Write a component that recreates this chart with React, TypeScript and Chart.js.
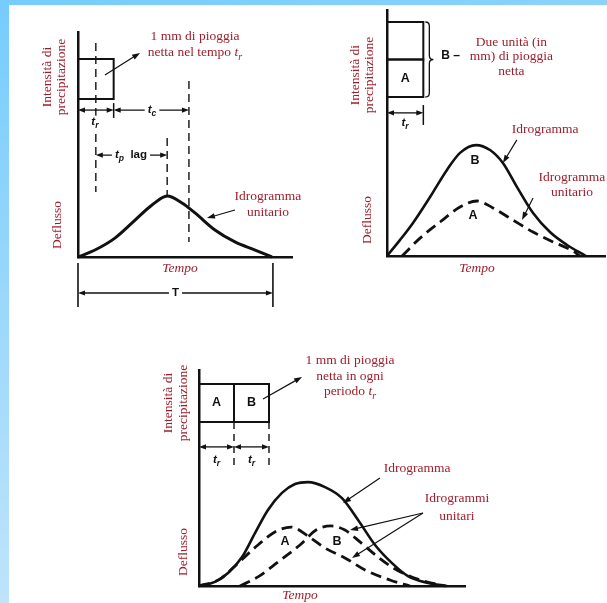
import React, { useEffect, useRef } from 'react';
import { Chart, registerables } from 'chart.js';

Chart.register(...registerables);

// ---------------- DATA ----------------
// Panel 1 – unit hydrograph (time in units where tr = 2)
const p1Time = [0, 0.95, 2.07, 3.2, 4.15, 5.0, 5.83, 6.56, 7.68, 8.8, 9.93, 10.88];
const p1Flow = [0, 0.31, 0.84, 1.64, 2.31, 2.71, 2.4, 1.96, 1.2, 0.67, 0.31, 0];
const p1RainStart = [0];
const p1RainEnd = [2];
const p1RainDepth = [1];
const p1RainLabels = [''];

// Panel 2 – two units of net rain in one tr
const p2RainStart = [0, 0];
const p2RainEnd = [2, 2];
const p2RainDepth = [1, 1];
const p2RainLabels = ['A', ''];
const p2TimeB = [0, 0.72, 1.43, 2.37, 3.3, 4.02, 4.9, 5.67, 6.38, 7.15, 8.04, 8.97, 9.91, 10.95];
const p2FlowB = [0, 0.72, 1.48, 2.64, 3.85, 4.61, 4.96, 4.74, 4.16, 3.09, 1.92, 1.07, 0.49, 0];
const p2TimeA = [0.83, 1.82, 2.92, 4.02, 4.95, 5.83, 6.93, 8.04, 9.14, 10.24, 10.62];
const p2FlowA = [0, 0.8, 1.52, 2.19, 2.46, 2.15, 1.61, 1.07, 0.63, 0.22, 0];

// Panel 3 – 1 mm in each of two consecutive tr periods
const p3RainStart = [0, 2];
const p3RainEnd = [2, 4];
const p3RainDepth = [1, 1];
const p3RainLabels = ['A', 'B'];
const p3TimeSum = [0, 0.91, 1.66, 2.46, 3.2, 3.94, 4.74, 5.49, 6.23, 7.2, 8.17, 9.09, 10.06, 11.03, 11.94, 13.09, 14.17];
const p3FlowSum = [0, 0.19, 0.6, 1.34, 2.45, 3.52, 4.31, 4.72, 4.81, 4.58, 4.07, 3.06, 1.9, 1.06, 0.46, 0.14, 0];
const p3TimeA = [0, 1.2, 2.23, 3.37, 4.34, 5.26, 6.23, 7.2, 8.34, 9.49, 10.91, 12.06];
const p3FlowA = [0, 0.32, 1.06, 1.9, 2.5, 2.73, 2.31, 1.76, 1.3, 0.74, 0.28, 0];
const p3TimeB = [2.34, 3.37, 4.51, 5.77, 6.69, 7.54, 8.34, 9.2, 10.23, 11.2, 12.63, 14.06];
const p3FlowB = [0, 0.42, 1.11, 1.9, 2.59, 2.78, 2.59, 2.04, 1.34, 0.79, 0.28, 0];

// ---------------- STYLE ----------------
const SERIF = "'Liberation Serif','Times New Roman',serif";
const SANS = "'Liberation Sans',Arial,sans-serif";
const RED = '#9d1f2d';
const INK = '#111';

type Seg = { s: string; it?: boolean; sub?: boolean };
const TR: Seg[] = [{ s: 't', it: true }, { s: 'r', it: true, sub: true }];

const segsOf = (s: string | Seg[]): Seg[] => (typeof s === 'string' ? [{ s }] : s);
const red = (x: number, y: number, s: string | Seg[], o: any = {}) => ({ k: 'txt', x, y, segs: segsOf(s), family: SERIF, size: 13.5, weight: 'normal', color: RED, ...o });
const sans = (x: number, y: number, s: string | Seg[], o: any = {}) => ({ k: 'txt', x, y, segs: segsOf(s), family: SANS, size: 11.5, weight: 'bold', color: INK, ...o });

function fontOf(g: Seg, size: number, weight: string, family: string, italicAll?: boolean) {
  return `${g.it || italicAll ? 'italic ' : ''}${weight} ${g.sub ? size * 0.75 : size}px ${family}`;
}
function measure(ctx: CanvasRenderingContext2D, segs: Seg[], size: number, weight: string, family: string, italicAll?: boolean) {
  let total = 0;
  const ws = segs.map((g) => {
    ctx.font = fontOf(g, size, weight, family, italicAll);
    const w = ctx.measureText(g.s).width;
    total += w;
    return w;
  });
  return { total, ws };
}
function drawTxt(ctx: CanvasRenderingContext2D, x: number, y: number, a: any) {
  const { total, ws } = measure(ctx, a.segs, a.size, a.weight, a.family, a.italic);
  ctx.save();
  ctx.translate(x, y);
  if (a.rot) ctx.rotate(-Math.PI / 2);
  if (a.bg) {
    ctx.fillStyle = '#fff';
    ctx.fillRect(-total / 2 - 2, -a.size * 0.55, total + 4, a.size * 1.2);
  }
  ctx.fillStyle = a.color;
  ctx.textBaseline = 'middle';
  ctx.textAlign = 'left';
  let cx = -total / 2;
  a.segs.forEach((g: Seg, i: number) => {
    ctx.font = fontOf(g, a.size, a.weight, a.family, a.italic);
    ctx.fillText(g.s, cx, g.sub ? a.size * 0.32 : 0);
    cx += ws[i];
  });
  ctx.restore();
}
function head(ctx: CanvasRenderingContext2D, x: number, y: number, ang: number, len = 7, half = 2.6) {
  const c = Math.cos(ang), s = Math.sin(ang);
  ctx.beginPath();
  ctx.moveTo(x, y);
  ctx.lineTo(x - len * c + half * s, y - len * s - half * c);
  ctx.lineTo(x - len * c - half * s, y - len * s + half * c);
  ctx.closePath();
  ctx.fill();
}

function makeDiagramPlugin(items: any[], rain: { start: number[]; end: number[]; depth: number[]; labels: string[] }) {
  return {
    id: 'diagram',
    afterDatasetsDraw(chart: any) {
      const ctx: CanvasRenderingContext2D = chart.ctx;
      const sx = chart.scales.x, sy = chart.scales.y, sr = chart.scales.yR;
      const X = (v: number) => sx.getPixelForValue(v);
      const Y = (v: number, ax?: string) => (ax === 'r' ? sr : sy).getPixelForValue(v);
      ctx.save();
      ctx.strokeStyle = INK;
      ctx.fillStyle = INK;
      // labels inside rain blocks
      const bases = rainBases(rain.start, rain.end, rain.depth);
      rain.labels.forEach((l, i) => {
        if (!l) return;
        drawTxt(ctx, X((rain.start[i] + rain.end[i]) / 2), Y(bases[i] + rain.depth[i] / 2, 'r'), sans(0, 0, l, { size: 12.5 }));
      });
      for (const a of items) {
        ctx.strokeStyle = INK;
        ctx.fillStyle = INK;
        if (a.k === 'vdash' || a.k === 'vline') {
          ctx.save();
          ctx.lineWidth = a.w || 1.4;
          if (a.k === 'vdash') ctx.setLineDash(a.dash || [8, 5]);
          ctx.beginPath();
          ctx.moveTo(X(a.x), Y(a.y1, a.ax));
          ctx.lineTo(X(a.x), Y(a.y2, a.ax));
          ctx.stroke();
          ctx.restore();
        } else if (a.k === 'dim') {
          const x1 = X(a.x1), x2 = X(a.x2), y = Y(a.y);
          ctx.lineWidth = 1.3;
          ctx.beginPath();
          ctx.moveTo(x1 + 3, y);
          ctx.lineTo(x2 - 3, y);
          ctx.stroke();
          head(ctx, x1, y, Math.PI);
          head(ctx, x2, y, 0);
          if (a.label) {
            const lx = a.lx !== undefined ? X(a.lx) : (x1 + x2) / 2;
            const t = sans(0, 0, a.label);
            const { total } = measure(ctx, t.segs, t.size, t.weight, t.family);
            ctx.fillStyle = '#fff';
            ctx.fillRect(lx - total / 2 - 3, y - 4, total + 6, 8);
            drawTxt(ctx, lx, y, t);
          }
        } else if (a.k === 'arrow') {
          const x1 = X(a.x1), y1 = Y(a.y1), x2 = X(a.x2), y2 = Y(a.y2);
          const ang = Math.atan2(y2 - y1, x2 - x1);
          ctx.lineWidth = 1.2;
          ctx.beginPath();
          ctx.moveTo(x1, y1);
          ctx.lineTo(x2 - 4 * Math.cos(ang), y2 - 4 * Math.sin(ang));
          ctx.stroke();
          head(ctx, x2, y2, ang, 8, 2.8);
        } else if (a.k === 'brace') {
          const x0 = X(a.x) + 2, yt = Y(a.y1, 'r'), yb = Y(a.y2, 'r'), ym = (yt + yb) / 2, w = 4;
          ctx.lineWidth = 1.3;
          ctx.beginPath();
          ctx.moveTo(x0, yt);
          ctx.quadraticCurveTo(x0 + w, yt, x0 + w, yt + w);
          ctx.lineTo(x0 + w, ym - w);
          ctx.quadraticCurveTo(x0 + w, ym, x0 + 2 * w, ym);
          ctx.quadraticCurveTo(x0 + w, ym, x0 + w, ym + w);
          ctx.lineTo(x0 + w, yb - w);
          ctx.quadraticCurveTo(x0 + w, yb, x0, yb);
          ctx.stroke();
        } else if (a.k === 'txt') {
          drawTxt(ctx, X(a.x), Y(a.y), a);
        }
      }
      ctx.restore();
    },
  };
}

function rainBases(start: number[], end: number[], depth: number[]) {
  return start.map((s, i) => {
    let b = 0;
    for (let j = 0; j < i; j++) if (start[j] < end[i] && end[j] > s) b += depth[j];
    return b;
  });
}
function rainDatasets(start: number[], end: number[], depth: number[]) {
  const bases = rainBases(start, end, depth);
  return start.map((s, i) => {
    const b = bases[i], t = b + depth[i], e = end[i];
    return {
      data: [{ x: s, y: b }, { x: s, y: t }, { x: e, y: t }, { x: e, y: b }, { x: s, y: b }],
      yAxisID: 'yR',
      borderColor: INK,
      borderWidth: 2,
      tension: 0,
      pointRadius: 0,
      fill: false,
      clip: false as any,
    };
  });
}
const xy = (t: number[], q: number[]) => t.map((v, i) => ({ x: v, y: q[i] }));
function curve(t: number[], q: number[], width: number, dash?: number[]) {
  return {
    data: xy(t, q),
    yAxisID: 'y',
    borderColor: INK,
    borderWidth: width,
    borderDash: dash || [],
    cubicInterpolationMode: 'monotone' as const,
    pointRadius: 0,
    fill: false,
    clip: false as any,
  };
}

const axisStyle = {
  type: 'linear' as const,
  grid: { display: false, drawTicks: false },
  ticks: { display: false },
  border: { display: true, color: INK, width: 2.5 },
};

function makeChart(canvas: HTMLCanvasElement, cfg: any) {
  return new Chart(canvas, {
    type: 'line',
    data: { datasets: cfg.datasets },
    options: {
      responsive: false,
      animation: false,
      events: [],
      layout: { padding: cfg.padding },
      plugins: { legend: { display: false }, tooltip: { enabled: false } },
      scales: {
        x: { ...axisStyle, position: 'bottom', min: cfg.x[0], max: cfg.x[1] },
        y: { ...axisStyle, position: 'left', min: cfg.y[0], max: cfg.y[1] },
        yR: { type: 'linear', display: false, min: cfg.yR[0], max: cfg.yR[1] },
      },
    } as any,
    plugins: [makeDiagramPlugin(cfg.items, cfg.rain)],
  });
}

const rotLabels = (xi: number, xp: number, yi: number, xd: number, yd: number) => [
  red(xi, yi, 'Intensità di', { rot: true }),
  red(xp, yi, 'precipitazione', { rot: true }),
  red(xd, yd, 'Deflusso', { rot: true }),
];

const panel1 = () => ({
  padding: { left: 78, top: 32, right: 315, bottom: 346 },
  x: [0, 12], y: [0, 10], yR: [-3.95, 1.675],
  rain: { start: p1RainStart, end: p1RainEnd, depth: p1RainDepth, labels: p1RainLabels },
  datasets: [...rainDatasets(p1RainStart, p1RainEnd, p1RainDepth), curve(p1Time, p1Flow, 3)],
  items: [
    { k: 'vdash', x: 1, y1: 9.51, y2: 2.89 },
    { k: 'vdash', x: 6.22, y1: 7.82, y2: 0.67 },
    { k: 'vdash', x: 5.0, y1: 5.29, y2: 2.76 },
    { k: 'vline', x: 2, y1: 6.84, y2: 6.18, w: 1.5 },
    { k: 'dim', x1: 0, x2: 2, y: 6.53 },
    { k: 'dim', x1: 2, x2: 6.22, y: 6.53, label: [{ s: 't', it: true }, { s: 'c', it: true, sub: true }], lx: 4.15 },
    sans(0.95, 6.0, TR, { bg: true }),
    { k: 'dim', x1: 1, x2: 5, y: 4.53, label: [{ s: 't', it: true }, { s: 'p', it: true, sub: true }, { s: '  lag' }], lx: 2.97 },
    red(6.56, 9.78, '1 mm di pioggia'),
    red(6.56, 9.07, [{ s: 'netta nel tempo ' }, ...TR]),
    { k: 'arrow', x1: 1.51, y1: 8.09, x2: 3.48, y2: 9.07 },
    red(10.65, 2.67, 'Idrogramma'),
    red(10.65, 2.0, 'unitario'),
    { k: 'arrow', x1: 8.8, y1: 2.09, x2: 7.23, y2: 1.73 },
    red(5.72, -0.53, 'Tempo', { italic: true }),
    { k: 'vline', x: 0, y1: -0.27, y2: -2.22, w: 1.6 },
    { k: 'vline', x: 10.93, y1: -0.27, y2: -2.22, w: 1.6 },
    { k: 'dim', x1: 0, x2: 10.93, y: -1.6, label: [{ s: 'T' }] },
    ...rotLabels(-1.74, -0.95, 8.0, -1.18, 1.42),
  ],
});

const panel2 = () => ({
  padding: { left: 387, top: 10, right: 2, bottom: 347 },
  x: [0, 12], y: [0, 11], yR: [-4.24, 2.32],
  rain: { start: p2RainStart, end: p2RainEnd, depth: p2RainDepth, labels: p2RainLabels },
  datasets: [
    ...rainDatasets(p2RainStart, p2RainEnd, p2RainDepth),
    curve(p2TimeB, p2FlowB, 2.6),
    curve(p2TimeA, p2FlowA, 2.8, [11, 6]),
  ],
  items: [
    { k: 'brace', x: 2, y1: 2, y2: 0 },
    sans(3.5, 8.95, 'B –', { size: 12 }),
    red(6.85, 9.57, 'Due unità (in'),
    red(6.85, 8.94, 'mm) di pioggia'),
    red(6.85, 8.27, 'netta'),
    { k: 'dim', x1: 0, x2: 2, y: 6.4 },
    { k: 'vline', x: 2, y1: 6.75, y2: 5.86, w: 1.5 },
    sans(0.99, 5.95, TR),
    sans(4.84, 4.29, 'B', { size: 12.5 }),
    sans(4.73, 1.83, 'A', { size: 12.5 }),
    red(8.7, 5.68, 'Idrogramma'),
    { k: 'arrow', x1: 7.15, y1: 5.19, x2: 6.38, y2: 4.16 },
    red(10.18, 3.53, 'Idrogramma'),
    red(10.18, 2.82, 'unitario'),
    { k: 'arrow', x1: 8.04, y1: 2.59, x2: 7.43, y2: 1.61 },
    red(4.95, -0.54, 'Tempo', { italic: true }),
    ...rotLabels(-1.76, -0.94, 8.09, -1.1, 1.61),
  ],
});

const panel3 = () => ({
  padding: { left: 199, top: 370, right: 142, bottom: 17 },
  x: [0, 15.2], y: [0, 10], yR: [-4.316, 1.368],
  rain: { start: p3RainStart, end: p3RainEnd, depth: p3RainDepth, labels: p3RainLabels },
  datasets: [
    ...rainDatasets(p3RainStart, p3RainEnd, p3RainDepth),
    curve(p3TimeSum, p3FlowSum, 2.6),
    curve(p3TimeA, p3FlowA, 2.8, [11, 6]),
    curve(p3TimeB, p3FlowB, 2.8, [11, 6]),
  ],
  items: [
    { k: 'vdash', x: 2, y1: 7.59, y2: 5.46, dash: [7, 5] },
    { k: 'vdash', x: 4, y1: 7.59, y2: 5.46, dash: [7, 5] },
    { k: 'dim', x1: 0, x2: 2, y: 6.44 },
    { k: 'dim', x1: 2, x2: 4, y: 6.44 },
    sans(1, 5.83, TR),
    sans(3, 5.83, TR),
    { k: 'arrow', x1: 3.66, y1: 8.66, x2: 5.89, y2: 9.68 },
    red(8.63, 10.43, '1 mm di pioggia'),
    red(8.63, 9.72, 'netta in ogni'),
    red(8.63, 9.0, [{ s: 'periodo ' }, ...TR]),
    red(12.46, 5.46, 'Idrogramma'),
    { k: 'arrow', x1: 10.34, y1: 5.0, x2: 8.23, y2: 3.84 },
    red(14.74, 4.03, 'Idrogrammi'),
    red(14.74, 3.24, 'unitari'),
    { k: 'arrow', x1: 12.8, y1: 3.38, x2: 8.63, y2: 2.59 },
    { k: 'arrow', x1: 12.8, y1: 3.38, x2: 8.74, y2: 1.3 },
    sans(4.91, 2.08, 'A', { size: 12.5 }),
    sans(7.89, 2.08, 'B', { size: 12.5 }),
    red(5.77, -0.42, 'Tempo', { italic: true }),
    ...rotLabels(-1.77, -0.9, 8.47, -0.91, 1.57),
  ],
});

export default function App() {
  const r1 = useRef<HTMLCanvasElement>(null);
  const r2 = useRef<HTMLCanvasElement>(null);
  const r3 = useRef<HTMLCanvasElement>(null);
  useEffect(() => {
    const charts = [
      makeChart(r1.current!, panel1()),
      makeChart(r2.current!, panel2()),
      makeChart(r3.current!, panel3()),
    ];
    return () => charts.forEach((c) => c.destroy());
  }, []);
  return (
    <div
      style={{
        position: 'absolute', left: 0, top: 0, width: 607, height: 603, overflow: 'hidden',
        background: 'linear-gradient(165deg, #76ccfd 0%, #d2eafb 100%)',
      }}
    >
      <div style={{ position: 'absolute', left: 9, top: 5, right: 0, bottom: 0, background: '#fff' }} />
      {[r1, r2, r3].map((r, i) => (
        <canvas key={i} ref={r} width={607} height={603} style={{ position: 'absolute', left: 0, top: 0, width: 607, height: 603 }} />
      ))}
    </div>
  );
}
